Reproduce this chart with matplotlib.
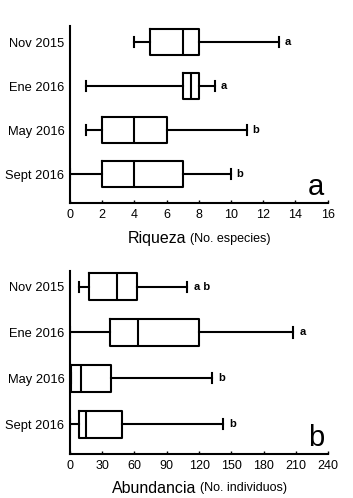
import matplotlib
matplotlib.use("Agg")
import matplotlib.pyplot as plt

plt.rcParams['font.family'] = ['Liberation Sans', 'DejaVu Sans']

fechas = ['Nov 2015', 'Ene 2016', 'May 2016', 'Sept 2016']

# riqueza (No. especies): whisker low, q1, median, q3, whisker high
riq_low = [4, 1, 1, 0]
riq_q1 = [5, 7, 2, 2]
riq_med = [7, 7.5, 4, 4]
riq_q3 = [8, 8, 6, 7]
riq_high = [13, 9, 11, 10]
riq_letras = ['a', 'a', 'b', 'b']

# abundancia (No. individuos)
abu_low = [8, 0, 1, 0]
abu_q1 = [18, 37, 1, 8]
abu_med = [44, 63, 10, 15]
abu_q3 = [62, 120, 38, 48]
abu_high = [109, 207, 132, 142]
abu_letras = ['a b', 'a', 'b', 'b']


def panel(ax, low, q1, med, q3, high, letras, xmax, xstep, off, letra, ylim):
    stats = []
    for i in range(len(fechas)):
        stats.append(dict(whislo=low[i], q1=q1[i], med=med[i], q3=q3[i],
                          whishi=high[i], fliers=[]))
    pos = list(range(len(fechas)))
    lp = dict(color='black', linewidth=1.5)
    ax.bxp(stats, positions=pos, vert=False, widths=0.58, capwidths=0.22,
           showfliers=False, boxprops=lp, medianprops=lp, whiskerprops=lp,
           capprops=lp)
    for i in range(len(fechas)):
        ax.text(high[i] + off, pos[i], letras[i], fontsize=8, fontweight='bold',
                va='center', ha='left')
    ax.set_xlim(0, xmax)
    ax.set_ylim(*ylim)
    ax.set_xticks(range(0, xmax + 1, xstep))
    ax.set_yticks(pos)
    ax.set_yticklabels(fechas, fontsize=9.3)
    ax.tick_params(axis='y', length=0, pad=4)
    ax.tick_params(axis='x', direction='in', length=2, width=1, labelsize=9, pad=4)
    for s in ['top', 'right']:
        ax.spines[s].set_visible(False)
    for s in ['left', 'bottom']:
        ax.spines[s].set_linewidth(1.5)
    ax.text(0.985, 0.09, letra, transform=ax.transAxes, fontsize=21,
            ha='right', va='center')


fig = plt.figure(figsize=(3.53, 4.98), dpi=100)
ax1 = fig.add_axes([0.198, 0.592, 0.730, 0.355])
ax2 = fig.add_axes([0.198, 0.088, 0.732, 0.367])

panel(ax1, riq_low, riq_q1, riq_med, riq_q3, riq_high, riq_letras, 16, 2, 0.35, 'a',
      (3.66, -0.36))
panel(ax2, abu_low, abu_q1, abu_med, abu_q3, abu_high, abu_letras, 240, 30, 6, 'b',
      (3.65, -0.33))

fig.text(0.527, 0.521, 'Riqueza', fontsize=11.5, ha='right', va='center')
fig.text(0.537, 0.521, '(No. especies)', fontsize=9, ha='left', va='center')
fig.text(0.555, 0.02, 'Abundancia', fontsize=11.5, ha='right', va='center')
fig.text(0.566, 0.02, '(No. individuos)', fontsize=9, ha='left', va='center')

fig.savefig('out.png', dpi=100)
